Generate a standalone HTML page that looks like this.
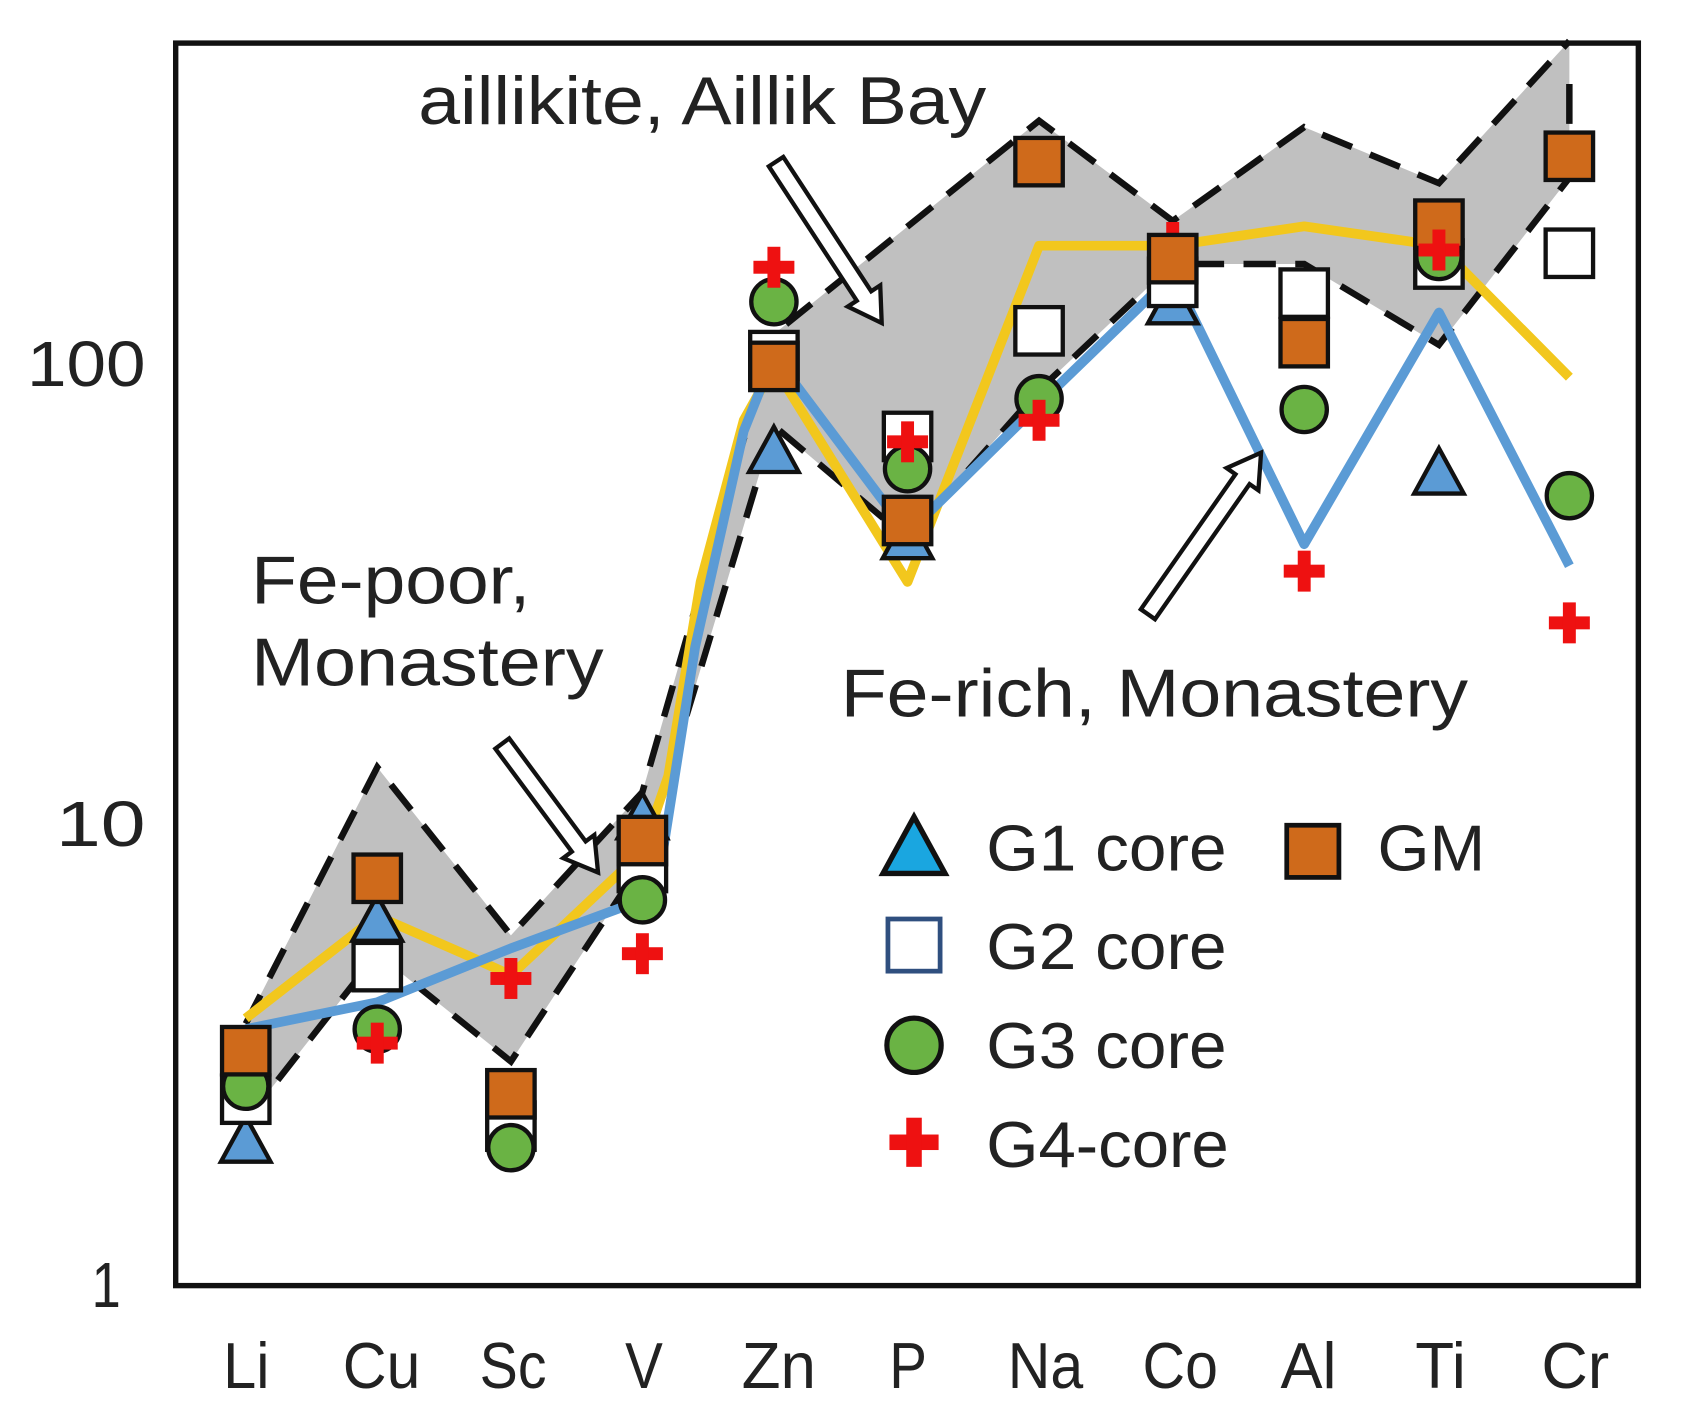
<!DOCTYPE html>
<html><head><meta charset="utf-8"><style>
html,body{margin:0;padding:0;background:#fff;}
svg{display:block;}
text{font-family:"Liberation Sans",sans-serif;fill:#222;}
</style></head><body>
<svg width="1689" height="1416" viewBox="0 0 1567 1314" preserveAspectRatio="none">
<defs>
<g id="sq"><rect x="-22" y="-22" width="44" height="44" fill="#fff" stroke="#111" stroke-width="4"/></g>
<g id="gm"><rect x="-22" y="-22" width="44" height="44" fill="#cf6a1b" stroke="#111" stroke-width="4"/></g>
<g id="ci"><circle r="21" fill="#6ab344" stroke="#111" stroke-width="4"/></g>
<g id="tr"><polygon points="0,-24 23,18 -23,18" fill="#5b9bd5" stroke="#111" stroke-width="4"/></g>
<g id="cr"><rect x="-19" y="-6" width="38" height="12" fill="#ee1111"/><rect x="-6" y="-19" width="12" height="38" fill="#ee1111"/></g>
</defs>
<polygon points="228,950 350,712 474,868 596,735 718,310 964,112 1088,205 1210,118 1335,170 1456,38 1456,165 1335,320 1210,245 1088,245 964,362 842,500 718,395 596,800 474,985 350,885 228,1040" fill="#c0c0c0"/>
<polyline points="228,950 350,712 474,868 596,735 718,310 964,112 1088,205 1210,118 1335,170 1456,38" fill="none" stroke="#111" stroke-width="6" stroke-dasharray="30,18"/>
<polyline points="228,1040 350,885 474,985 596,800 718,395 842,500 964,362 1088,245 1210,245 1335,320 1456,165" fill="none" stroke="#111" stroke-width="6" stroke-dasharray="30,18"/>
<line x1="1456" y1="78" x2="1456" y2="115" stroke="#111" stroke-width="6"/>
<polyline points="228,945 350,850 430,885 474,905 596,790 620,720 650,540 690,390 718,340 842,540 964,228 1088,228 1210,210 1335,228 1456,350" fill="none" stroke="#f2c71d" stroke-width="9" stroke-linejoin="round"/>
<polyline points="228,955 350,930 474,880 596,835 615,790 645,600 690,400 718,330 842,495 964,375 1088,255 1210,505 1335,290 1456,525" fill="none" stroke="#5b9bd5" stroke-width="9" stroke-linejoin="round"/>
<rect x="163" y="40" width="1357" height="1153" fill="none" stroke="#111" stroke-width="5"/>
<g transform="translate(720,150) rotate(56.8)"><polygon points="0,-8 149,-8 149,-18 179,0 149,18 149,8 0,8" fill="#fff" stroke="#111" stroke-width="4"/></g>
<g transform="translate(466,690) rotate(53.4)"><polygon points="0,-8 119,-8 119,-18 149,0 119,18 119,8 0,8" fill="#fff" stroke="#111" stroke-width="4"/></g>
<g transform="translate(1065,570) rotate(-55)"><polygon points="0,-8 153,-8 153,-18 183,0 153,18 153,8 0,8" fill="#fff" stroke="#111" stroke-width="4"/></g>
<use href="#tr" x="228" y="1060"/><use href="#sq" x="228" y="1020"/><use href="#ci" x="228" y="1008"/><use href="#gm" x="228" y="975"/>
<use href="#sq" x="350" y="897"/><use href="#tr" x="350" y="855"/><use href="#gm" x="350" y="815"/><use href="#ci" x="350" y="955"/><use href="#cr" x="350" y="968"/>
<use href="#sq" x="474" y="1045"/><use href="#gm" x="474" y="1015"/><use href="#ci" x="474" y="1065"/><use href="#cr" x="474" y="908"/>
<use href="#tr" x="596" y="760"/><use href="#sq" x="596" y="805"/><use href="#gm" x="596" y="780"/><use href="#ci" x="596" y="835"/><use href="#cr" x="596" y="885"/>
<use href="#tr" x="718" y="420"/><use href="#sq" x="718" y="330"/><use href="#gm" x="718" y="340"/><use href="#ci" x="718" y="280"/><use href="#cr" x="718" y="248"/>
<use href="#tr" x="842" y="500"/><use href="#sq" x="842" y="405"/><use href="#ci" x="842" y="435"/><use href="#cr" x="842" y="410"/><use href="#gm" x="842" y="483"/>
<use href="#gm" x="964" y="150"/><use href="#sq" x="964" y="307"/><use href="#ci" x="964" y="370"/><use href="#cr" x="964" y="390"/>
<use href="#cr" x="1088" y="225"/><use href="#tr" x="1088" y="282"/><use href="#sq" x="1088" y="262"/><use href="#gm" x="1088" y="240"/>
<use href="#sq" x="1210" y="272"/><use href="#gm" x="1210" y="318"/><use href="#ci" x="1210" y="380"/><use href="#cr" x="1210" y="530"/>
<use href="#tr" x="1335" y="440"/><use href="#sq" x="1335" y="245"/><use href="#ci" x="1335" y="238"/><use href="#gm" x="1335" y="208"/><use href="#cr" x="1335" y="232"/>
<use href="#gm" x="1456" y="145"/><use href="#sq" x="1456" y="235"/><use href="#ci" x="1456" y="460"/><use href="#cr" x="1456" y="578"/>
<g font-size="63">
<text x="388" y="115" textLength="527" lengthAdjust="spacingAndGlyphs">aillikite, Aillik Bay</text>
<text x="233" y="560" textLength="259" lengthAdjust="spacingAndGlyphs">Fe-poor,</text>
<text x="233" y="636" textLength="327" lengthAdjust="spacingAndGlyphs">Monastery</text>
<text x="780" y="665" textLength="582" lengthAdjust="spacingAndGlyphs">Fe-rich, Monastery</text>
</g>
<g font-size="59">
<text x="25" y="358" textLength="110" lengthAdjust="spacingAndGlyphs">100</text>
<text x="52" y="785" textLength="83" lengthAdjust="spacingAndGlyphs">10</text>
<text x="85" y="1213" textLength="27" lengthAdjust="spacingAndGlyphs">1</text>
</g>
<g font-size="60">
<text x="207" y="1288" textLength="43" lengthAdjust="spacingAndGlyphs">Li</text>
<text x="318" y="1288" textLength="72" lengthAdjust="spacingAndGlyphs">Cu</text>
<text x="445" y="1288" textLength="62" lengthAdjust="spacingAndGlyphs">Sc</text>
<text x="580" y="1288" textLength="35" lengthAdjust="spacingAndGlyphs">V</text>
<text x="688" y="1288" textLength="69" lengthAdjust="spacingAndGlyphs">Zn</text>
<text x="825" y="1288" textLength="35" lengthAdjust="spacingAndGlyphs">P</text>
<text x="935" y="1288" textLength="70" lengthAdjust="spacingAndGlyphs">Na</text>
<text x="1060" y="1288" textLength="70" lengthAdjust="spacingAndGlyphs">Co</text>
<text x="1188" y="1288" textLength="52" lengthAdjust="spacingAndGlyphs">Al</text>
<text x="1313" y="1288" textLength="47" lengthAdjust="spacingAndGlyphs">Ti</text>
<text x="1430" y="1288" textLength="63" lengthAdjust="spacingAndGlyphs">Cr</text>
</g>
<g transform="translate(848,788) scale(1.25)"><polygon points="0,-24 23,18 -23,18" fill="#1aa6e0" stroke="#111" stroke-width="4"/></g>
<g transform="translate(848,877) scale(1.1)"><rect x="-22" y="-22" width="44" height="44" fill="#fff" stroke="#2f4f7f" stroke-width="4"/></g>
<g transform="translate(848,970) scale(1.2)"><use href="#ci"/></g>
<g transform="translate(848,1060) scale(1.2)"><use href="#cr"/></g>
<g transform="translate(1218,790) scale(1.1)"><use href="#gm"/></g>
<g font-size="60">
<text x="915" y="808" textLength="223" lengthAdjust="spacingAndGlyphs">G1 core</text>
<text x="1278" y="808" textLength="100" lengthAdjust="spacingAndGlyphs">GM</text>
<text x="915" y="899" textLength="223" lengthAdjust="spacingAndGlyphs">G2 core</text>
<text x="915" y="991" textLength="223" lengthAdjust="spacingAndGlyphs">G3 core</text>
<text x="915" y="1083" textLength="225" lengthAdjust="spacingAndGlyphs">G4-core</text>
</g>
</svg>
</body></html>
